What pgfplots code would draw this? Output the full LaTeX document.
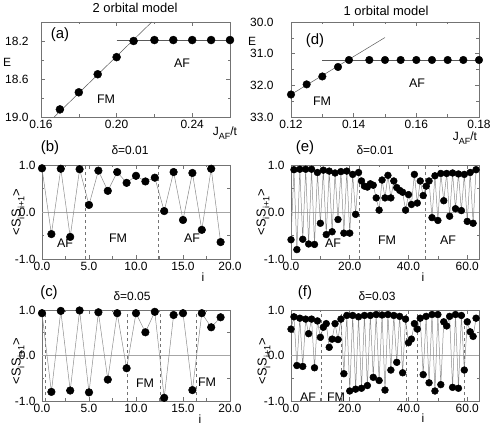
\documentclass[border=0pt]{standalone}
\usepackage{fontspec}
\setmainfont{Liberation Sans}
\usepackage{pgfplots}
\pgfplotsset{compat=1.18}

\definecolor{frame}{gray}{0.45}
\definecolor{fitline}{gray}{0.35}
\definecolor{zeroline}{gray}{0.65}
\definecolor{dataline}{gray}{0.55}

\newcommand{\tk}{\fontsize{12}{14}\selectfont}
\newcommand{\lbl}{\fontsize{12.5}{14}\selectfont}
\newcommand{\sub}[1]{\raisebox{-0.3em}{\fontsize{9}{10}\selectfont #1}}
\newcommand{\corr}{<S\sub{i}S\sub{i+1}>}

\pgfplotsset{
  panel/.style={
    scale only axis, anchor=south west,
    axis line style={frame, line width=0.6pt},
    every tick/.style={frame, line width=0.6pt},
    major tick length=4bp, minor tick length=2.5bp,
    tick align=inside,
    tick label style={font=\tk},
    /pgf/number format/assume math mode=true,
    /pgf/number format/fixed,
    /pgf/number format/fixed zerofill,
  },
  spin/.style={panel,
    ymin=-1, ymax=1, ytick={-1,0,1}, minor ytick={-0.5,0.5},
    yticklabel style={/pgf/number format/precision=1},
    xticklabel style={/pgf/number format/precision=1},
  },
  dots/.style={dataline, line width=0.5pt, mark=*, mark size=#1,
    mark options={draw=black, fill=black}},
}

\begin{document}
\begin{tikzpicture}
\useasboundingbox (0,0) rectangle (491bp,429bp);

% (a) 2 orbital model, energy
\begin{axis}[panel, at={(41bp,312bp)}, width=189bp, height=95bp,
  xmin=0.16, xmax=0.26, ymin=18, ymax=19, y dir=reverse,
  xtick={0.16,0.20,0.24}, minor xtick={0.18,0.22},
  ytick={18.2,18.6,19.0}, minor ytick={18.4,18.8},
  xticklabel style={/pgf/number format/precision=2},
  yticklabel style={/pgf/number format/precision=1, xshift=-9bp}]
\addplot[fitline, line width=0.5pt] coordinates {(0.167,19.0) (0.2186,18.0)};
\addplot[fitline, line width=0.5pt] coordinates {(0.200,18.19) (0.26,18.19)};
\addplot[only marks, mark=*, mark size=4bp, mark options={draw=black, fill=black}] coordinates {
  (0.17,18.92) (0.18,18.74) (0.19,18.55) (0.20,18.37) (0.209,18.20)
  (0.22,18.19) (0.23,18.19) (0.24,18.19) (0.25,18.19) (0.26,18.19)
};
\end{axis}

% (d) 1 orbital model, energy
\begin{axis}[panel, at={(291bp,312bp)}, width=188bp, height=95bp,
  xmin=0.12, xmax=0.18, ymin=30, ymax=33, y dir=reverse,
  xtick={0.12,0.14,0.16,0.18}, minor xtick={0.13,0.15,0.17},
  ytick={30,31,32,33}, minor ytick={30.5,31.5,32.5},
  xticklabel style={/pgf/number format/precision=2},
  yticklabel style={/pgf/number format/precision=1, xshift=-14bp}]
\addplot[fitline, line width=0.5pt] coordinates {(0.12,32.29) (0.15,30.49)};
\addplot[fitline, line width=0.5pt] coordinates {(0.13,31.2) (0.18,31.2)};
\addplot[only marks, mark=*, mark size=3.8bp, mark options={draw=black, fill=black}] coordinates {
  (0.12,32.29) (0.125,31.97) (0.13,31.72) (0.135,31.42) (0.1385,31.20)
  (0.145,31.2) (0.15,31.2) (0.155,31.2) (0.16,31.2) (0.165,31.2)
  (0.17,31.2) (0.175,31.2) (0.18,31.2)
};
\end{axis}

% (b) delta = 0.01, 2 orbital
\begin{axis}[spin, at={(42bp,170bp)}, width=188bp, height=94bp,
  xmin=0, xmax=20, xtick={0,5,10,15,20}, minor xtick={2.5,7.5,12.5,17.5},
  yticklabel style={xshift=-3bp}]
\draw[zeroline, line width=0.6pt] (axis cs:0,0) -- (axis cs:20,0);
\draw[frame, dashed, line width=0.5pt] (axis cs:4.6,-1) -- (axis cs:4.6,1);
\draw[frame, dashed, line width=0.5pt] (axis cs:12.4,-1) -- (axis cs:12.4,1);
\addplot[dots=3.8bp] coordinates {
  (0,0.93) (1,-0.47) (2,0.92) (3,-0.53) (4,0.91) (5,0.15) (6,0.88)
  (7,0.45) (8,0.85) (9,0.62) (10,0.77) (11,0.65) (12,0.73) (13,0.02)
  (14,0.85) (15,-0.17) (16,0.83) (17,-0.38) (18,0.92) (19,-0.64)
};
\end{axis}

% (e) delta = 0.01, 1 orbital
\begin{axis}[spin, at={(291bp,170bp)}, width=188bp, height=94bp,
  xmin=0, xmax=64, xtick={0,20,40,60}, minor xtick={10,30,50},
  yticklabel style={xshift=-3bp}]
\draw[zeroline, line width=0.6pt] (axis cs:0,0) -- (axis cs:64,0);
\draw[frame, dashed, line width=0.5pt] (axis cs:23.2,-1) -- (axis cs:23.2,1);
\draw[frame, dashed, line width=0.5pt] (axis cs:45.8,-1) -- (axis cs:45.8,1);
\addplot[dots=3.4bp] coordinates {
  (0,-0.59) (1,0.90) (2,-0.80) (3,0.91) (4,-0.58) (5,0.91) (6,-0.68) (7,0.91)
  (8,-0.69) (9,0.84) (10,-0.24) (11,0.89) (12,-0.48) (13,0.87) (14,-0.42) (15,0.83)
  (16,-0.16) (17,0.86) (18,-0.45) (19,0.87) (20,-0.45) (21,0.80) (22,-0.05) (23,0.84)
  (24,0.66) (25,0.55) (26,0.53) (27,0.60) (28,0.57) (29,0.30) (30,0.04) (31,0.68)
  (32,0.30) (33,0.78) (34,0.30) (35,0.66) (36,0.52) (37,0.46) (38,0.42) (39,0.04)
  (40,0.37) (41,0.16) (42,0.80) (43,0.19) (44,0.66) (45,0.35) (46,0.55) (47,0.66)
  (48,-0.12) (49,0.77) (50,-0.18) (51,0.82) (52,0.24) (53,0.82) (54,-0.09) (55,0.83)
  (56,0.07) (57,0.81) (58,0.03) (59,0.80) (60,-0.20) (61,0.84) (62,-0.24) (63,0.90)
};
\end{axis}

% (c) delta = 0.05, 2 orbital
\begin{axis}[spin, at={(42bp,28bp)}, width=188bp, height=91bp,
  xmin=0, xmax=20, xtick={0,5,10,15,20}, minor xtick={2.5,7.5,12.5,17.5},
  yticklabel style={xshift=-3bp}]
\draw[zeroline, line width=0.6pt] (axis cs:0,0) -- (axis cs:20,0);
\draw[frame, dashed, line width=0.5pt] (axis cs:0.36,-1) -- (axis cs:0.36,1);
\draw[frame, dashed, line width=0.5pt] (axis cs:9.1,-1) -- (axis cs:9.1,1);
\draw[frame, dashed, line width=0.5pt] (axis cs:12.6,-1) -- (axis cs:12.6,1);
\draw[frame, dashed, line width=0.5pt] (axis cs:16.45,-1) -- (axis cs:16.45,1);
\addplot[dots=3.8bp] coordinates {
  (0,0.93) (1,-0.80) (2,0.98) (3,-0.77) (4,0.99) (5,-0.81) (6,0.95)
  (7,-0.53) (8,0.93) (9,-0.28) (10,0.93) (11,0.51) (12,0.96) (13,-0.93)
  (14,0.89) (15,0.93) (16,-0.76) (17,0.93) (18,0.62) (19,0.84)
};
\end{axis}

% (f) delta = 0.03, 1 orbital
\begin{axis}[spin, at={(291bp,28bp)}, width=188bp, height=91bp,
  xmin=0, xmax=64, xtick={0,20,40,60}, minor xtick={10,30,50},
  yticklabel style={xshift=-3bp}]
\draw[zeroline, line width=0.6pt] (axis cs:0,0) -- (axis cs:64,0);
\draw[frame, dashed, line width=0.5pt] (axis cs:10.2,-1) -- (axis cs:10.2,1);
\draw[frame, dashed, line width=0.5pt] (axis cs:17.1,-1) -- (axis cs:17.1,1);
\draw[frame, dashed, line width=0.5pt] (axis cs:39.1,-1) -- (axis cs:39.1,1);
\draw[frame, dashed, line width=0.5pt] (axis cs:42.9,-1) -- (axis cs:42.9,1);
\draw[frame, dashed, line width=0.5pt] (axis cs:59.1,-1) -- (axis cs:59.1,1);
\addplot[dots=3.4bp] coordinates {
  (0,0.58) (1,0.85) (2,-0.22) (3,0.82) (4,-0.24) (5,0.80) (6,0.48) (7,0.80)
  (8,-0.27) (9,0.76) (10,0.40) (11,0.62) (12,0.70) (13,0.18) (14,0.36) (15,0.70)
  (16,0.35) (17,0.80) (18,-0.40) (19,0.88) (20,-0.78) (21,0.88) (22,-0.74) (23,0.85)
  (24,-0.72) (25,0.88) (26,-0.66) (27,0.88) (28,-0.48) (29,0.90) (30,-0.55) (31,0.89)
  (32,-0.76) (33,0.90) (34,-0.32) (35,0.88) (36,-0.15) (37,0.86) (38,-0.38) (39,0.80)
  (40,0.28) (41,0.36) (42,0.70) (43,0.58) (44,0.82) (45,-0.42) (46,0.86) (47,-0.60)
  (48,0.90) (49,-0.78) (50,0.90) (51,-0.64) (52,0.74) (53,0.65) (54,0.86) (55,-0.70)
  (56,0.90) (57,-0.72) (58,0.88) (59,-0.32) (60,0.74) (61,0.52) (62,0.42) (63,0.82)
};
\end{axis}

% titles
\node[font=\fontsize{13}{15}\selectfont] at (135bp,421bp) {2 orbital model};
\node[font=\fontsize{13}{15}\selectfont] at (386bp,418bp) {1 orbital model};
% panel letters
\node[font=\fontsize{15}{17}\selectfont] at (60bp,394bp) {(a)};
\node[font=\fontsize{15}{17}\selectfont] at (315bp,388bp) {(d)};
\node[font=\fontsize{15}{17}\selectfont] at (50bp,281bp) {(b)};
\node[font=\fontsize{15}{17}\selectfont] at (305bp,281bp) {(e)};
\node[font=\fontsize{15}{17}\selectfont] at (49bp,136bp) {(c)};
\node[font=\fontsize{15}{17}\selectfont] at (305bp,136bp) {(f)};
% delta labels
\node[font=\tk] at (130bp,279bp) {δ=0.01};
\node[font=\tk] at (375bp,279bp) {δ=0.01};
\node[font=\tk] at (132bp,133bp) {δ=0.05};
\node[font=\tk] at (377bp,133bp) {δ=0.03};
% axis labels
\node[font=\tk] at (7bp,367bp) {E};
\node[font=\tk] at (252bp,388bp) {E};
\node[font=\tk] at (225bp,296bp) {J\sub{AF}/t};
\node[font=\tk] at (465bp,291bp) {J\sub{AF}/t};
\node[font=\tk] at (203bp,152bp) {i};
\node[font=\tk] at (423bp,152bp) {i};
\node[font=\tk] at (200bp,10bp) {i};
\node[font=\tk] at (423bp,11bp) {i};
\node[font=\fontsize{13}{15}\selectfont, rotate=90] at (18bp,217bp) {\corr};
\node[font=\fontsize{13}{15}\selectfont, rotate=90] at (263bp,217bp) {\corr};
\node[font=\fontsize{13}{15}\selectfont, rotate=90] at (18bp,68bp) {\corr};
\node[font=\fontsize{13}{15}\selectfont, rotate=90] at (264bp,68bp) {\corr};
% region labels
\node[font=\lbl] at (106bp,330bp) {FM};
\node[font=\lbl] at (182bp,366bp) {AF};
\node[font=\lbl] at (322bp,328bp) {FM};
\node[font=\lbl] at (417bp,346bp) {AF};
\node[font=\lbl] at (65bp,186bp) {AF};
\node[font=\lbl] at (118bp,191bp) {FM};
\node[font=\lbl] at (192bp,191bp) {AF};
\node[font=\lbl] at (333bp,186bp) {AF};
\node[font=\lbl] at (387bp,189bp) {FM};
\node[font=\lbl] at (448bp,189bp) {AF};
\node[font=\lbl] at (145bp,46bp) {FM};
\node[font=\lbl] at (207bp,47bp) {FM};
\node[font=\lbl] at (308bp,32bp) {AF};
\node[font=\lbl] at (336bp,32bp) {FM};
\end{tikzpicture}
\end{document}
